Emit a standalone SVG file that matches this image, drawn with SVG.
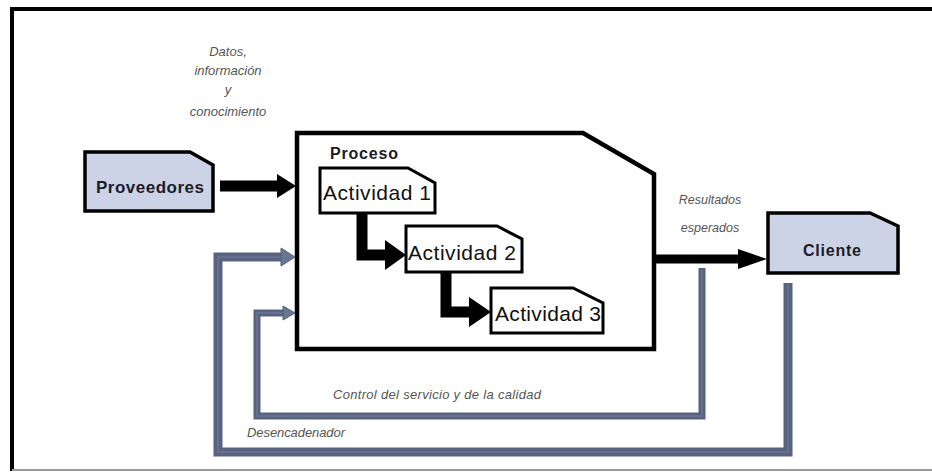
<svg xmlns="http://www.w3.org/2000/svg" width="932" height="472" viewBox="0 0 932 472">
  <style>
    .frame { fill: none; stroke: #000; stroke-width: 4; }
    .note { fill: #fff; stroke: #000; stroke-width: 3; stroke-linejoin: miter; }
    .actor { fill: #cdd3e6; stroke: #000; stroke-width: 3.5; }
    .proc { fill: #fff; stroke: #000; stroke-width: 4.5; }
    .lbl { font-family: "Liberation Sans", Arial, sans-serif; font-weight: bold; fill: #1c1c28; }
    .act { font-family: "Liberation Sans", Arial, sans-serif; font-size: 21px; fill: #111; }
    .cap { font-family: "Liberation Sans", Arial, sans-serif; font-style: italic; fill: #555; }
    .flow { fill: none; stroke: #000; stroke-width: 11; }
    .fb { fill: none; stroke: #58637f; stroke-linejoin: miter; }
    .fbin { fill: none; stroke: #66718d; stroke-width: 2; }
    .head { fill: #000; }
    .fbhead { fill: #6a7592; stroke: #56617f; stroke-width: 1; }
  </style>

  <!-- page frame -->
  <rect x="0" y="0" width="932" height="472" fill="#fff"/>
  <line x1="10" y1="9" x2="932" y2="9" class="frame"/>
  <line x1="12" y1="7" x2="12" y2="471" class="frame"/>
  <line x1="12" y1="470" x2="932" y2="470" stroke="#999" stroke-width="2"/>

  <!-- captions -->
  <g id="captions">
    <text x="228" y="56" class="cap" font-size="13" text-anchor="middle">Datos,</text>
    <text x="228" y="75" class="cap" font-size="13" text-anchor="middle">información</text>
    <text x="228" y="94" class="cap" font-size="13" text-anchor="middle">y</text>
    <text x="228" y="116" class="cap" font-size="13" text-anchor="middle">conocimiento</text>
    <text x="710" y="204" class="cap" font-size="12.5" text-anchor="middle">Resultados</text>
    <text x="710" y="232" class="cap" font-size="12.5" text-anchor="middle">esperados</text>
    <text x="333" y="399" class="cap" font-size="13" textLength="208">Control del servicio y de la calidad</text>
    <text x="247" y="437" class="cap" font-size="13" textLength="98">Desencadenador</text>
  </g>

  <g id="proveedores">
    <polygon points="85,152 190,152 213,165 213,211 85,211" class="actor"/>
    <text x="150" y="193" class="lbl" font-size="17" text-anchor="middle" textLength="108">Proveedores</text>
  </g>

  <g id="proceso">
    <polygon points="297,133 583,133 654,174 654,349 297,349" class="proc"/>
    <text x="330" y="159" class="lbl" font-size="16" textLength="68">Proceso</text>
  </g>

  <g id="actividad1">
    <polygon points="320,168 408,168 435,183 435,213 320,213" class="note"/>
    <text x="323" y="200" class="act" textLength="108">Actividad 1</text>
  </g>

  <g id="actividad2">
    <polygon points="406,226 497,226 522,239 522,272 406,272" class="note"/>
    <text x="408" y="260" class="act" textLength="108">Actividad 2</text>
  </g>

  <g id="actividad3">
    <polygon points="491,288 573,288 603,303 603,333 491,333" class="note"/>
    <text x="495" y="321" class="act" textLength="106">Actividad 3</text>
  </g>

  <g id="cliente">
    <polygon points="768,213 870,213 898,226 898,273 768,273" class="actor"/>
    <text x="832" y="256" class="lbl" font-size="16" text-anchor="middle" textLength="58">Cliente</text>
  </g>

  <!-- connectors -->
  <g id="connectors">
    <!-- Proveedores to Proceso -->
    <line x1="220" y1="186" x2="280" y2="186" class="flow"/>
    <polygon points="277,174 296,186 277,198" class="head"/>

    <!-- Actividad 1 to Actividad 2 -->
    <polyline points="362,214 362,255 388,255" class="flow"/>
    <polygon points="385,240 406,255 385,270" class="head"/>

    <!-- Actividad 2 to Actividad 3 -->
    <polyline points="446,273 446,312 472,312" class="flow"/>
    <polygon points="469,297 491,312 469,327" class="head"/>

    <!-- Proceso to Cliente -->
    <line x1="656" y1="259" x2="742" y2="259" stroke="#000" stroke-width="9"/>
    <polygon points="738,249 767,259 738,269" class="head"/>

    <!-- control loop back into Proceso -->
    <polyline points="702,268 702,416 257,416 257,313 285,313" class="fb" stroke-width="7"/>
    <polyline points="702,270 702,416 257,416 257,313 284,313" class="fbin"/>
    <polygon points="283,306 295,313 283,320" class="fbhead"/>

    <!-- trigger loop from Cliente -->
    <polyline points="788,283 788,452 218,452 218,257 283,257" class="fb" stroke-width="9"/>
    <polyline points="788,285 788,452 218,452 218,257 282,257" class="fbin"/>
    <polygon points="281,248 295,257 281,266" class="fbhead"/>
  </g>
</svg>
